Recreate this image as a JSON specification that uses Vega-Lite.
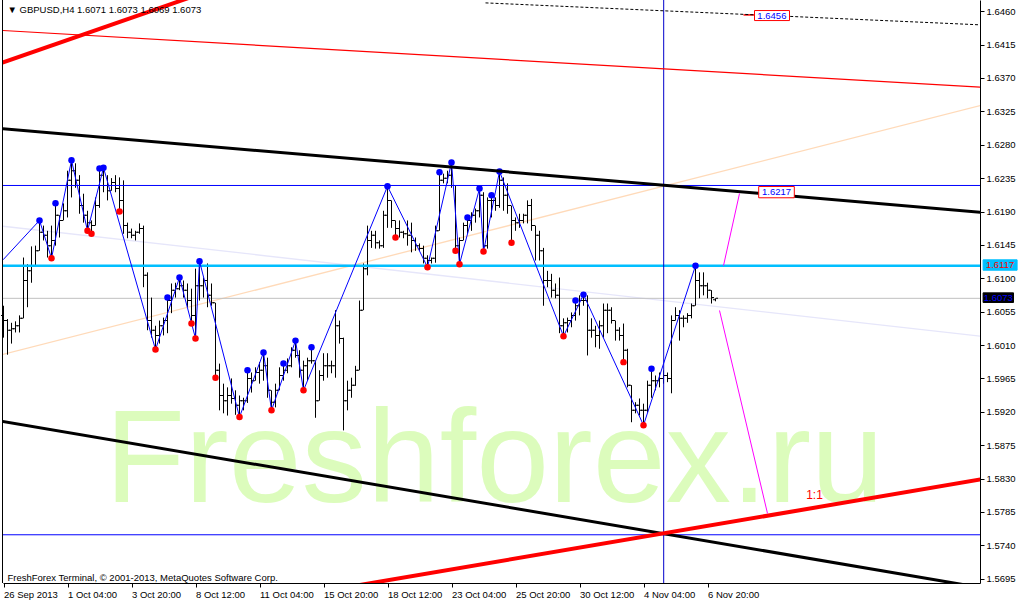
{
  "$schema": "https://vega.github.io/schema/vega-lite/v6.json",
  "width": 977,
  "height": 583,
  "autosize": {"type": "none"},
  "padding": {"left": 3, "top": 0, "right": 40, "bottom": 18},
  "background": "white",
  "config": {"view": {"stroke": null}, "font": "Liberation Sans", "axis": {"labelOverlap": false, "labelSeparation": 0}},
  "datasets": {
    "bars": [
      {"i":0,"o":1.6050,"h":1.6063,"l":1.6020,"c":1.6043},
      {"i":1,"o":1.6043,"h":1.6045,"l":1.5997,"c":1.6030},
      {"i":2,"o":1.6030,"h":1.6040,"l":1.6012,"c":1.6032},
      {"i":3,"o":1.6032,"h":1.6042,"l":1.6027,"c":1.6036},
      {"i":4,"o":1.6036,"h":1.6050,"l":1.6027,"c":1.6046},
      {"i":5,"o":1.6046,"h":1.6128,"l":1.6046,"c":1.6097},
      {"i":6,"o":1.6097,"h":1.6119,"l":1.6061,"c":1.6110},
      {"i":7,"o":1.6110,"h":1.6143,"l":1.6094,"c":1.6117},
      {"i":8,"o":1.6117,"h":1.6144,"l":1.6117,"c":1.6137},
      {"i":9,"o":1.6137,"h":1.6178,"l":1.6137,"c":1.6162},
      {"i":10,"o":1.6162,"h":1.6171,"l":1.6151,"c":1.6158},
      {"i":11,"o":1.6158,"h":1.6164,"l":1.6128,"c":1.6144},
      {"i":12,"o":1.6144,"h":1.6171,"l":1.6127,"c":1.6151},
      {"i":13,"o":1.6151,"h":1.6201,"l":1.6144,"c":1.6185},
      {"i":14,"o":1.6185,"h":1.6185,"l":1.6155,"c":1.6178},
      {"i":15,"o":1.6178,"h":1.6201,"l":1.6178,"c":1.6191},
      {"i":16,"o":1.6191,"h":1.6245,"l":1.6182,"c":1.6232},
      {"i":17,"o":1.6232,"h":1.6259,"l":1.6209,"c":1.6245},
      {"i":18,"o":1.6245,"h":1.6255,"l":1.6222,"c":1.6232},
      {"i":19,"o":1.6232,"h":1.6239,"l":1.6187,"c":1.6198},
      {"i":20,"o":1.6198,"h":1.6214,"l":1.6175,"c":1.6185},
      {"i":21,"o":1.6185,"h":1.6191,"l":1.6164,"c":1.6175},
      {"i":22,"o":1.6175,"h":1.6178,"l":1.6160,"c":1.6171},
      {"i":23,"o":1.6171,"h":1.6209,"l":1.6171,"c":1.6198},
      {"i":24,"o":1.6198,"h":1.6248,"l":1.6195,"c":1.6239},
      {"i":25,"o":1.6239,"h":1.6249,"l":1.6216,"c":1.6225},
      {"i":26,"o":1.6225,"h":1.6239,"l":1.6205,"c":1.6218},
      {"i":27,"o":1.6218,"h":1.6235,"l":1.6218,"c":1.6229},
      {"i":28,"o":1.6229,"h":1.6239,"l":1.6216,"c":1.6221},
      {"i":29,"o":1.6221,"h":1.6236,"l":1.6190,"c":1.6205},
      {"i":30,"o":1.6205,"h":1.6232,"l":1.6160,"c":1.6171},
      {"i":31,"o":1.6171,"h":1.6175,"l":1.6154,"c":1.6162},
      {"i":32,"o":1.6162,"h":1.6167,"l":1.6154,"c":1.6158},
      {"i":33,"o":1.6158,"h":1.6164,"l":1.6151,"c":1.6162},
      {"i":34,"o":1.6162,"h":1.6174,"l":1.6160,"c":1.6167},
      {"i":35,"o":1.6167,"h":1.6171,"l":1.6088,"c":1.6104},
      {"i":36,"o":1.6104,"h":1.6108,"l":1.6030,"c":1.6043},
      {"i":37,"o":1.6043,"h":1.6074,"l":1.6020,"c":1.6030},
      {"i":38,"o":1.6030,"h":1.6036,"l":1.6004,"c":1.6023},
      {"i":39,"o":1.6023,"h":1.6043,"l":1.6012,"c":1.6036},
      {"i":40,"o":1.6036,"h":1.6047,"l":1.6023,"c":1.6043},
      {"i":41,"o":1.6043,"h":1.6074,"l":1.6026,"c":1.6070},
      {"i":42,"o":1.6070,"h":1.6093,"l":1.6053,"c":1.6084},
      {"i":43,"o":1.6084,"h":1.6094,"l":1.6074,"c":1.6086},
      {"i":44,"o":1.6086,"h":1.6101,"l":1.6084,"c":1.6090},
      {"i":45,"o":1.6090,"h":1.6097,"l":1.6074,"c":1.6084},
      {"i":46,"o":1.6084,"h":1.6093,"l":1.6061,"c":1.6070},
      {"i":47,"o":1.6070,"h":1.6086,"l":1.6039,"c":1.6050},
      {"i":48,"o":1.6050,"h":1.6113,"l":1.6019,"c":1.6090},
      {"i":49,"o":1.6090,"h":1.6123,"l":1.6070,"c":1.6090},
      {"i":50,"o":1.6090,"h":1.6101,"l":1.6074,"c":1.6097},
      {"i":51,"o":1.6097,"h":1.6120,"l":1.6061,"c":1.6077},
      {"i":52,"o":1.6077,"h":1.6093,"l":1.6063,"c":1.6067},
      {"i":53,"o":1.6067,"h":1.6067,"l":1.5966,"c":1.5976},
      {"i":54,"o":1.5976,"h":1.5985,"l":1.5922,"c":1.5942},
      {"i":55,"o":1.5942,"h":1.5958,"l":1.5918,"c":1.5935},
      {"i":56,"o":1.5935,"h":1.5953,"l":1.5915,"c":1.5942},
      {"i":57,"o":1.5942,"h":1.5965,"l":1.5931,"c":1.5938},
      {"i":58,"o":1.5938,"h":1.5949,"l":1.5916,"c":1.5929},
      {"i":59,"o":1.5929,"h":1.5942,"l":1.5913,"c":1.5935},
      {"i":60,"o":1.5935,"h":1.5939,"l":1.5922,"c":1.5935},
      {"i":61,"o":1.5935,"h":1.5976,"l":1.5932,"c":1.5965},
      {"i":62,"o":1.5965,"h":1.5973,"l":1.5946,"c":1.5962},
      {"i":63,"o":1.5962,"h":1.5980,"l":1.5962,"c":1.5973},
      {"i":64,"o":1.5973,"h":1.5987,"l":1.5958,"c":1.5976},
      {"i":65,"o":1.5976,"h":1.6000,"l":1.5962,"c":1.5982},
      {"i":66,"o":1.5982,"h":1.5993,"l":1.5939,"c":1.5949},
      {"i":67,"o":1.5949,"h":1.5949,"l":1.5922,"c":1.5933},
      {"i":68,"o":1.5933,"h":1.5958,"l":1.5926,"c":1.5949},
      {"i":69,"o":1.5949,"h":1.5980,"l":1.5949,"c":1.5969},
      {"i":70,"o":1.5969,"h":1.5985,"l":1.5962,"c":1.5976},
      {"i":71,"o":1.5976,"h":1.5992,"l":1.5972,"c":1.5982},
      {"i":72,"o":1.5982,"h":1.6007,"l":1.5980,"c":1.6003},
      {"i":73,"o":1.6003,"h":1.6016,"l":1.5993,"c":1.5996},
      {"i":74,"o":1.5996,"h":1.6003,"l":1.5966,"c":1.5976},
      {"i":75,"o":1.5976,"h":1.5989,"l":1.5949,"c":1.5982},
      {"i":76,"o":1.5982,"h":1.5993,"l":1.5962,"c":1.5989},
      {"i":77,"o":1.5989,"h":1.6007,"l":1.5985,"c":1.5989},
      {"i":78,"o":1.5989,"h":1.5989,"l":1.5912,"c":1.5935},
      {"i":79,"o":1.5935,"h":1.5976,"l":1.5935,"c":1.5969},
      {"i":80,"o":1.5969,"h":1.5999,"l":1.5962,"c":1.5982},
      {"i":81,"o":1.5982,"h":1.5999,"l":1.5966,"c":1.5982},
      {"i":82,"o":1.5982,"h":1.5989,"l":1.5972,"c":1.5982},
      {"i":83,"o":1.5982,"h":1.6057,"l":1.5966,"c":1.6036},
      {"i":84,"o":1.6036,"h":1.6043,"l":1.6012,"c":1.6019},
      {"i":85,"o":1.6019,"h":1.6020,"l":1.5895,"c":1.5935},
      {"i":86,"o":1.5935,"h":1.5962,"l":1.5922,"c":1.5949},
      {"i":87,"o":1.5949,"h":1.5966,"l":1.5939,"c":1.5956},
      {"i":88,"o":1.5956,"h":1.5982,"l":1.5955,"c":1.5976},
      {"i":89,"o":1.5976,"h":1.6070,"l":1.5976,"c":1.6057},
      {"i":90,"o":1.6057,"h":1.6120,"l":1.6057,"c":1.6113},
      {"i":91,"o":1.6113,"h":1.6171,"l":1.6104,"c":1.6151},
      {"i":92,"o":1.6151,"h":1.6164,"l":1.6141,"c":1.6158},
      {"i":93,"o":1.6158,"h":1.6164,"l":1.6140,"c":1.6148},
      {"i":94,"o":1.6148,"h":1.6151,"l":1.6140,"c":1.6144},
      {"i":95,"o":1.6144,"h":1.6191,"l":1.6141,"c":1.6185},
      {"i":96,"o":1.6185,"h":1.6224,"l":1.6168,"c":1.6205},
      {"i":97,"o":1.6205,"h":1.6205,"l":1.6168,"c":1.6178},
      {"i":98,"o":1.6178,"h":1.6178,"l":1.6155,"c":1.6167},
      {"i":99,"o":1.6167,"h":1.6178,"l":1.6155,"c":1.6162},
      {"i":100,"o":1.6162,"h":1.6164,"l":1.6154,"c":1.6160},
      {"i":101,"o":1.6160,"h":1.6178,"l":1.6144,"c":1.6158},
      {"i":102,"o":1.6158,"h":1.6175,"l":1.6135,"c":1.6151},
      {"i":103,"o":1.6151,"h":1.6155,"l":1.6137,"c":1.6144},
      {"i":104,"o":1.6144,"h":1.6147,"l":1.6137,"c":1.6140},
      {"i":105,"o":1.6140,"h":1.6144,"l":1.6120,"c":1.6127},
      {"i":106,"o":1.6127,"h":1.6131,"l":1.6115,"c":1.6124},
      {"i":107,"o":1.6124,"h":1.6128,"l":1.6120,"c":1.6127},
      {"i":108,"o":1.6127,"h":1.6171,"l":1.6121,"c":1.6164},
      {"i":109,"o":1.6164,"h":1.6243,"l":1.6164,"c":1.6232},
      {"i":110,"o":1.6232,"h":1.6241,"l":1.6228,"c":1.6235},
      {"i":111,"o":1.6235,"h":1.6245,"l":1.6228,"c":1.6239},
      {"i":112,"o":1.6239,"h":1.6256,"l":1.6222,"c":1.6225},
      {"i":113,"o":1.6225,"h":1.6225,"l":1.6137,"c":1.6144},
      {"i":114,"o":1.6144,"h":1.6155,"l":1.6119,"c":1.6151},
      {"i":115,"o":1.6151,"h":1.6175,"l":1.6151,"c":1.6171},
      {"i":116,"o":1.6171,"h":1.6182,"l":1.6160,"c":1.6178},
      {"i":117,"o":1.6178,"h":1.6189,"l":1.6164,"c":1.6185},
      {"i":118,"o":1.6185,"h":1.6194,"l":1.6175,"c":1.6191},
      {"i":119,"o":1.6191,"h":1.6221,"l":1.6182,"c":1.6212},
      {"i":120,"o":1.6212,"h":1.6216,"l":1.6136,"c":1.6144},
      {"i":121,"o":1.6144,"h":1.6209,"l":1.6140,"c":1.6205},
      {"i":122,"o":1.6205,"h":1.6212,"l":1.6182,"c":1.6205},
      {"i":123,"o":1.6205,"h":1.6209,"l":1.6191,"c":1.6198},
      {"i":124,"o":1.6198,"h":1.6244,"l":1.6195,"c":1.6232},
      {"i":125,"o":1.6232,"h":1.6236,"l":1.6191,"c":1.6212},
      {"i":126,"o":1.6212,"h":1.6228,"l":1.6187,"c":1.6198},
      {"i":127,"o":1.6198,"h":1.6198,"l":1.6148,"c":1.6178},
      {"i":128,"o":1.6178,"h":1.6182,"l":1.6164,"c":1.6175},
      {"i":129,"o":1.6175,"h":1.6187,"l":1.6168,"c":1.6178},
      {"i":130,"o":1.6178,"h":1.6187,"l":1.6174,"c":1.6185},
      {"i":131,"o":1.6185,"h":1.6205,"l":1.6174,"c":1.6198},
      {"i":132,"o":1.6198,"h":1.6207,"l":1.6164,"c":1.6171},
      {"i":133,"o":1.6171,"h":1.6171,"l":1.6124,"c":1.6158},
      {"i":134,"o":1.6158,"h":1.6164,"l":1.6124,"c":1.6137},
      {"i":135,"o":1.6137,"h":1.6141,"l":1.6063,"c":1.6097},
      {"i":136,"o":1.6097,"h":1.6110,"l":1.6088,"c":1.6097},
      {"i":137,"o":1.6097,"h":1.6106,"l":1.6074,"c":1.6084},
      {"i":138,"o":1.6084,"h":1.6093,"l":1.6073,"c":1.6077},
      {"i":139,"o":1.6077,"h":1.6101,"l":1.6026,"c":1.6036},
      {"i":140,"o":1.6036,"h":1.6046,"l":1.6022,"c":1.6040},
      {"i":141,"o":1.6040,"h":1.6047,"l":1.6027,"c":1.6043},
      {"i":142,"o":1.6043,"h":1.6054,"l":1.6034,"c":1.6050},
      {"i":143,"o":1.6050,"h":1.6070,"l":1.6043,"c":1.6063},
      {"i":144,"o":1.6063,"h":1.6077,"l":1.6050,"c":1.6070},
      {"i":145,"o":1.6070,"h":1.6078,"l":1.6063,"c":1.6070},
      {"i":146,"o":1.6070,"h":1.6077,"l":1.5996,"c":1.6030},
      {"i":147,"o":1.6030,"h":1.6046,"l":1.6020,"c":1.6030},
      {"i":148,"o":1.6030,"h":1.6036,"l":1.6007,"c":1.6023},
      {"i":149,"o":1.6023,"h":1.6043,"l":1.6005,"c":1.6036},
      {"i":150,"o":1.6036,"h":1.6066,"l":1.6020,"c":1.6057},
      {"i":151,"o":1.6057,"h":1.6066,"l":1.6026,"c":1.6057},
      {"i":152,"o":1.6057,"h":1.6061,"l":1.6039,"c":1.6043},
      {"i":153,"o":1.6043,"h":1.6043,"l":1.6016,"c":1.6030},
      {"i":154,"o":1.6030,"h":1.6034,"l":1.6016,"c":1.6023},
      {"i":155,"o":1.6023,"h":1.6039,"l":1.5987,"c":1.6003},
      {"i":156,"o":1.6003,"h":1.6005,"l":1.5953,"c":1.5956},
      {"i":157,"o":1.5956,"h":1.5956,"l":1.5906,"c":1.5922},
      {"i":158,"o":1.5922,"h":1.5933,"l":1.5918,"c":1.5929},
      {"i":159,"o":1.5929,"h":1.5938,"l":1.5915,"c":1.5922},
      {"i":160,"o":1.5922,"h":1.5931,"l":1.5902,"c":1.5922},
      {"i":161,"o":1.5922,"h":1.5962,"l":1.5919,"c":1.5956},
      {"i":162,"o":1.5956,"h":1.5978,"l":1.5939,"c":1.5962},
      {"i":163,"o":1.5962,"h":1.5969,"l":1.5949,"c":1.5962},
      {"i":164,"o":1.5962,"h":1.5973,"l":1.5953,"c":1.5965},
      {"i":165,"o":1.5965,"h":1.5976,"l":1.5958,"c":1.5969},
      {"i":166,"o":1.5969,"h":1.5973,"l":1.5960,"c":1.5965},
      {"i":167,"o":1.5965,"h":1.6050,"l":1.5945,"c":1.6043},
      {"i":168,"o":1.6043,"h":1.6061,"l":1.6043,"c":1.6050},
      {"i":169,"o":1.6050,"h":1.6057,"l":1.6016,"c":1.6046},
      {"i":170,"o":1.6046,"h":1.6050,"l":1.6034,"c":1.6046},
      {"i":171,"o":1.6046,"h":1.6053,"l":1.6040,"c":1.6050},
      {"i":172,"o":1.6050,"h":1.6066,"l":1.6046,"c":1.6063},
      {"i":173,"o":1.6063,"h":1.6117,"l":1.6063,"c":1.6097},
      {"i":174,"o":1.6097,"h":1.6108,"l":1.6073,"c":1.6090},
      {"i":175,"o":1.6090,"h":1.6108,"l":1.6077,"c":1.6090},
      {"i":176,"o":1.6090,"h":1.6094,"l":1.6073,"c":1.6084},
      {"i":177,"o":1.6084,"h":1.6084,"l":1.6066,"c":1.6074},
      {"i":178,"o":1.6071,"h":1.6073,"l":1.6069,"c":1.6073}
    ],
    "zigzag": [
      {"i":-0.1,"p":1.6125},{"i":9,"p":1.6178},{"i":12,"p":1.6127},{"i":17,"p":1.6259},
      {"i":21,"p":1.6164},{"i":25,"p":1.6249},{"i":38,"p":1.6004},{"i":44,"p":1.6101},
      {"i":48,"p":1.6019},{"i":49,"p":1.6123},{"i":59,"p":1.5913},{"i":65,"p":1.6000},
      {"i":67,"p":1.5922},{"i":73,"p":1.6016},{"i":75,"p":1.5949},{"i":96,"p":1.6224},
      {"i":106,"p":1.6115},{"i":112,"p":1.6256},{"i":114,"p":1.6119},{"i":119,"p":1.6221},
      {"i":120,"p":1.6136},{"i":124,"p":1.6244},{"i":140,"p":1.6022},{"i":145,"p":1.6078},
      {"i":160,"p":1.5902},{"i":173,"p":1.6117}
    ],
    "dots": [
      {"i":9,"p":1.6178,"t":"up"},{"i":13,"p":1.6201,"t":"up"},{"i":17,"p":1.6259,"t":"up"},
      {"i":24,"p":1.6248,"t":"up"},{"i":25,"p":1.6249,"t":"up"},{"i":41,"p":1.6074,"t":"up"},
      {"i":44,"p":1.6101,"t":"up"},{"i":49,"p":1.6123,"t":"up"},{"i":61,"p":1.5976,"t":"up"},
      {"i":65,"p":1.6000,"t":"up"},{"i":70,"p":1.5985,"t":"up"},{"i":73,"p":1.6016,"t":"up"},
      {"i":77,"p":1.6007,"t":"up"},{"i":96,"p":1.6224,"t":"up"},{"i":109,"p":1.6243,"t":"up"},
      {"i":112,"p":1.6256,"t":"up"},{"i":116,"p":1.6182,"t":"up"},{"i":119,"p":1.6221,"t":"up"},
      {"i":122,"p":1.6212,"t":"up"},{"i":124,"p":1.6244,"t":"up"},{"i":143,"p":1.6070,"t":"up"},
      {"i":145,"p":1.6078,"t":"up"},{"i":162,"p":1.5978,"t":"up"},{"i":173,"p":1.6117,"t":"up"},
      {"i":12,"p":1.6127,"t":"down"},{"i":21,"p":1.6164,"t":"down"},{"i":22,"p":1.6160,"t":"down"},
      {"i":29,"p":1.6190,"t":"down"},{"i":38,"p":1.6004,"t":"down"},{"i":47,"p":1.6039,"t":"down"},
      {"i":48,"p":1.6019,"t":"down"},{"i":53,"p":1.5966,"t":"down"},{"i":59,"p":1.5913,"t":"down"},
      {"i":67,"p":1.5922,"t":"down"},{"i":75,"p":1.5949,"t":"down"},{"i":98,"p":1.6155,"t":"down"},
      {"i":106,"p":1.6115,"t":"down"},{"i":113,"p":1.6137,"t":"down"},{"i":114,"p":1.6119,"t":"down"},
      {"i":120,"p":1.6136,"t":"down"},{"i":127,"p":1.6148,"t":"down"},{"i":140,"p":1.6022,"t":"down"},
      {"i":155,"p":1.5987,"t":"down"},{"i":160,"p":1.5902,"t":"down"}
    ],
    "lines": [
      {"n":"redThin","i1":-0.25,"p1":1.64340,"i2":244.25,"p2":1.63575},
      {"n":"redThick","i1":-0.25,"p1":1.63908,"i2":49.25,"p2":1.64834},
      {"n":"redThick","i1":84.25,"p1":1.56822,"i2":244.25,"p2":1.58288},
      {"n":"blackThick","i1":-0.25,"p1":1.63015,"i2":244.25,"p2":1.61891},
      {"n":"blackThick","i1":-0.25,"p1":1.59072,"i2":244.25,"p2":1.56832},
      {"n":"blackDash","i1":120.5,"p1":1.64712,"i2":244.25,"p2":1.64416},
      {"n":"redShort","i1":185,"p1":1.6455,"i2":188,"p2":1.6455},
      {"n":"lavender","i1":-0.25,"p1":1.61702,"i2":244.25,"p2":1.60220},
      {"n":"peach","i1":-0.25,"p1":1.59973,"i2":244.25,"p2":1.63329},
      {"n":"magenta","i1":180,"p1":1.6117,"i2":184,"p2":1.62143},
      {"n":"magenta","i1":179,"p1":1.60566,"i2":191,"p2":1.57830}
    ],
    "levels": [
      {"n":"cyan","p":1.6117},
      {"n":"gray","p":1.6073},
      {"n":"blue","p":1.62251},
      {"n":"blue","p":1.57543}
    ],
    "boxes": [
      {"n":"red","i1":187.75,"i2":196.5,"p1":1.64609,"p2":1.64474,"t":"1.6456","ti":192.1,"tp":1.64540},
      {"n":"red","i1":188.8,"i2":197.7,"p1":1.62237,"p2":1.62085,"t":"1.6217","ti":193.25,"tp":1.62160},
      {"n":"cyan","i1":244.9,"i2":253.4,"p1":1.61249,"p2":1.61109,"t":"1.6117","ti":249.15,"tp":1.61180},
      {"n":"black","i1":244.9,"i2":252.5,"p1":1.60804,"p2":1.60674,"t":"1.6073","ti":248.7,"tp":1.60740}
    ],
    "notes": [
      {"n":"header","t":"▼ GBPUSD,H4  1.6071 1.6073 1.6069 1.6073","i":1,"p":1.64610},
      {"n":"footer","t":"FreshForex Terminal, © 2001-2013, MetaQuotes Software Corp.","i":1,"p":1.56954},
      {"n":"ratio","t":"1:1","i":202.75,"p":1.58019}
    ]
  },
  "layer": [
    {
      "data": {"values": [{"t": "Freshforex.ru", "i": 122.75, "p": 1.5798}]},
      "mark": {"type": "text", "fontSize": 131, "font": "Liberation Sans", "color": "#dcfcbc", "align": "center", "baseline": "alphabetic"},
      "encoding": {
        "x": {"field": "i", "type": "quantitative", "scale": {"domain": [-0.125, 244.125], "nice": false, "zero": false},
          "axis": {"title": null, "orient": "bottom", "values": [0,16,32,48,64,80,96,112,128,144,160,176], "tickCount": 40,
            "labelExpr": "['26 Sep 2013','1 Oct 04:00','3 Oct 20:00','8 Oct 12:00','11 Oct 04:00','15 Oct 20:00','18 Oct 12:00','23 Oct 04:00','25 Oct 20:00','30 Oct 12:00','4 Nov 04:00','6 Nov 20:00'][round(datum.value/16)]",
            "labelAlign": "left", "labelBaseline": "top", "labelPadding": 2, "tickSize": 4, "tickColor": "black", "domainColor": "black",
            "labelColor": "black", "labelFontSize": 9.5, "labelFont": "Liberation Sans", "grid": false, "labelFlush": false, "labelOverlap": false, "labelBound": false}},
        "y": {"field": "p", "type": "quantitative", "scale": {"domain": [1.56893, 1.64751], "nice": false, "zero": false},
          "axis": {"title": null, "orient": "right", "values": [1.6460,1.6415,1.6370,1.6325,1.6280,1.6235,1.6190,1.6145,1.6100,1.6055,1.6010,1.5965,1.5920,1.5875,1.5830,1.5785,1.5740,1.5695], "tickCount": 40,
            "format": ".4f", "labelAlign": "left", "labelBaseline": "middle", "labelPadding": 2, "tickSize": 4, "tickColor": "black", "domainColor": "black",
            "labelColor": "black", "labelFontSize": 9.5, "labelFont": "Liberation Sans", "grid": false, "labelFlush": false, "labelOverlap": false, "labelSeparation": 0, "labelBound": false}},
        "text": {"field": "t"}
      }
    },
    {
      "data": {"name": "lines"},
      "transform": [{"filter": "datum.n == 'peach'"}],
      "mark": {"type": "rule", "color": "#ffdab9", "strokeWidth": 1.3, "clip": true},
      "encoding": {
        "x": {"field": "i1", "type": "quantitative", "title": null, "scale": {"domain": [-0.125, 244.125], "nice": false, "zero": false}},
        "y": {"field": "p1", "type": "quantitative", "title": null, "scale": {"domain": [1.56893, 1.64751], "nice": false, "zero": false}},
        "x2": {"field": "i2"}, "y2": {"field": "p2"}
      }
    },
    {
      "data": {"name": "lines"},
      "transform": [{"filter": "datum.n == 'lavender'"}],
      "mark": {"type": "rule", "color": "#e6e6fa", "strokeWidth": 1.3, "clip": true},
      "encoding": {
        "x": {"field": "i1", "type": "quantitative", "title": null, "scale": {"domain": [-0.125, 244.125], "nice": false, "zero": false}},
        "y": {"field": "p1", "type": "quantitative", "title": null, "scale": {"domain": [1.56893, 1.64751], "nice": false, "zero": false}},
        "x2": {"field": "i2"}, "y2": {"field": "p2"}
      }
    },
    {
      "data": {"name": "levels"},
      "transform": [{"filter": "datum.n == 'gray'"}],
      "mark": {"type": "rule", "color": "#c0c0c0", "strokeWidth": 1},
      "encoding": {
        "y": {"field": "p", "type": "quantitative", "title": null, "scale": {"domain": [1.56893, 1.64751], "nice": false, "zero": false}}
      }
    },
    {
      "data": {"name": "bars"},
      "mark": {"type": "rule", "color": "black", "strokeWidth": 1},
      "encoding": {
        "x": {"field": "i", "type": "quantitative", "title": null, "scale": {"domain": [-0.125, 244.125], "nice": false, "zero": false}},
        "y": {"field": "h", "type": "quantitative", "title": null, "scale": {"domain": [1.56893, 1.64751], "nice": false, "zero": false}},
        "y2": {"field": "l"}
      }
    },
    {
      "data": {"name": "bars"},
      "mark": {"type": "tick", "orient": "horizontal", "size": 2, "thickness": 1, "xOffset": -1.5, "color": "black", "opacity": 1},
      "encoding": {
        "x": {"field": "i", "type": "quantitative", "title": null, "scale": {"domain": [-0.125, 244.125], "nice": false, "zero": false}},
        "y": {"field": "o", "type": "quantitative", "title": null, "scale": {"domain": [1.56893, 1.64751], "nice": false, "zero": false}}
      }
    },
    {
      "data": {"name": "bars"},
      "mark": {"type": "tick", "orient": "horizontal", "size": 2, "thickness": 1, "xOffset": 1.5, "color": "black", "opacity": 1},
      "encoding": {
        "x": {"field": "i", "type": "quantitative", "title": null, "scale": {"domain": [-0.125, 244.125], "nice": false, "zero": false}},
        "y": {"field": "c", "type": "quantitative", "title": null, "scale": {"domain": [1.56893, 1.64751], "nice": false, "zero": false}}
      }
    },
    {
      "data": {"name": "levels"},
      "transform": [{"filter": "datum.n == 'cyan'"}],
      "mark": {"type": "rule", "color": "#00bfff", "strokeWidth": 2.5},
      "encoding": {
        "y": {"field": "p", "type": "quantitative", "title": null, "scale": {"domain": [1.56893, 1.64751], "nice": false, "zero": false}}
      }
    },
    {
      "data": {"name": "levels"},
      "transform": [{"filter": "datum.n == 'blue'"}],
      "mark": {"type": "rule", "color": "#0000ff", "strokeWidth": 1},
      "encoding": {
        "y": {"field": "p", "type": "quantitative", "title": null, "scale": {"domain": [1.56893, 1.64751], "nice": false, "zero": false}}
      }
    },
    {
      "data": {"values": [{"i": 165.05}]},
      "mark": {"type": "rule", "color": "#0000cc", "strokeWidth": 1},
      "encoding": {
        "x": {"field": "i", "type": "quantitative", "title": null, "scale": {"domain": [-0.125, 244.125], "nice": false, "zero": false}}
      }
    },
    {
      "data": {"name": "zigzag"},
      "mark": {"type": "line", "color": "#0000ff", "strokeWidth": 1, "clip": true},
      "encoding": {
        "x": {"field": "i", "type": "quantitative", "title": null, "scale": {"domain": [-0.125, 244.125], "nice": false, "zero": false}},
        "y": {"field": "p", "type": "quantitative", "title": null, "scale": {"domain": [1.56893, 1.64751], "nice": false, "zero": false}}
      }
    },
    {
      "data": {"name": "dots"},
      "mark": {"type": "circle", "size": 42, "opacity": 1},
      "encoding": {
        "x": {"field": "i", "type": "quantitative", "title": null, "scale": {"domain": [-0.125, 244.125], "nice": false, "zero": false}},
        "y": {"field": "p", "type": "quantitative", "title": null, "scale": {"domain": [1.56893, 1.64751], "nice": false, "zero": false}},
        "color": {"field": "t", "type": "nominal", "scale": {"domain": ["up", "down"], "range": ["#0000ff", "#ff0000"]}, "legend": null}
      }
    },
    {
      "data": {"name": "lines"},
      "transform": [{"filter": "datum.n == 'redThin'"}],
      "mark": {"type": "rule", "color": "#ff0000", "strokeWidth": 1.2, "clip": true},
      "encoding": {
        "x": {"field": "i1", "type": "quantitative", "title": null, "scale": {"domain": [-0.125, 244.125], "nice": false, "zero": false}},
        "y": {"field": "p1", "type": "quantitative", "title": null, "scale": {"domain": [1.56893, 1.64751], "nice": false, "zero": false}},
        "x2": {"field": "i2"}, "y2": {"field": "p2"}
      }
    },
    {
      "data": {"name": "lines"},
      "transform": [{"filter": "datum.n == 'redShort'"}],
      "mark": {"type": "rule", "color": "#ff0000", "strokeWidth": 1.5, "clip": true},
      "encoding": {
        "x": {"field": "i1", "type": "quantitative", "title": null, "scale": {"domain": [-0.125, 244.125], "nice": false, "zero": false}},
        "y": {"field": "p1", "type": "quantitative", "title": null, "scale": {"domain": [1.56893, 1.64751], "nice": false, "zero": false}},
        "x2": {"field": "i2"}, "y2": {"field": "p2"}
      }
    },
    {
      "data": {"name": "lines"},
      "transform": [{"filter": "datum.n == 'blackThick'"}],
      "mark": {"type": "rule", "color": "#000000", "strokeWidth": 3, "clip": true},
      "encoding": {
        "x": {"field": "i1", "type": "quantitative", "title": null, "scale": {"domain": [-0.125, 244.125], "nice": false, "zero": false}},
        "y": {"field": "p1", "type": "quantitative", "title": null, "scale": {"domain": [1.56893, 1.64751], "nice": false, "zero": false}},
        "x2": {"field": "i2"}, "y2": {"field": "p2"}
      }
    },
    {
      "data": {"name": "lines"},
      "transform": [{"filter": "datum.n == 'redThick'"}],
      "mark": {"type": "rule", "color": "#ff0000", "strokeWidth": 4, "clip": true},
      "encoding": {
        "x": {"field": "i1", "type": "quantitative", "title": null, "scale": {"domain": [-0.125, 244.125], "nice": false, "zero": false}},
        "y": {"field": "p1", "type": "quantitative", "title": null, "scale": {"domain": [1.56893, 1.64751], "nice": false, "zero": false}},
        "x2": {"field": "i2"}, "y2": {"field": "p2"}
      }
    },
    {
      "data": {"name": "lines"},
      "transform": [{"filter": "datum.n == 'blackDash'"}],
      "mark": {"type": "rule", "color": "#000000", "strokeWidth": 1, "strokeDash": [3, 2], "clip": true},
      "encoding": {
        "x": {"field": "i1", "type": "quantitative", "title": null, "scale": {"domain": [-0.125, 244.125], "nice": false, "zero": false}},
        "y": {"field": "p1", "type": "quantitative", "title": null, "scale": {"domain": [1.56893, 1.64751], "nice": false, "zero": false}},
        "x2": {"field": "i2"}, "y2": {"field": "p2"}
      }
    },
    {
      "data": {"name": "lines"},
      "transform": [{"filter": "datum.n == 'magenta'"}],
      "mark": {"type": "rule", "color": "#ff00ff", "strokeWidth": 1, "clip": true},
      "encoding": {
        "x": {"field": "i1", "type": "quantitative", "title": null, "scale": {"domain": [-0.125, 244.125], "nice": false, "zero": false}},
        "y": {"field": "p1", "type": "quantitative", "title": null, "scale": {"domain": [1.56893, 1.64751], "nice": false, "zero": false}},
        "x2": {"field": "i2"}, "y2": {"field": "p2"}
      }
    },
    {
      "data": {"name": "boxes"},
      "mark": {"type": "rect", "strokeWidth": 1},
      "encoding": {
        "x": {"field": "i1", "type": "quantitative", "title": null, "scale": {"domain": [-0.125, 244.125], "nice": false, "zero": false}},
        "y": {"field": "p1", "type": "quantitative", "title": null, "scale": {"domain": [1.56893, 1.64751], "nice": false, "zero": false}},
        "x2": {"field": "i2"}, "y2": {"field": "p2"},
        "fill": {"field": "n", "type": "nominal", "scale": {"domain": ["red", "cyan", "black"], "range": ["#ffffff", "#00bfff", "#000000"]}, "legend": null},
        "stroke": {"field": "n", "type": "nominal", "scale": {"domain": ["red", "cyan", "black"], "range": ["#ff0000", "#00bfff", "#000000"]}, "legend": null}
      }
    },
    {
      "data": {"name": "boxes"},
      "mark": {"type": "text", "fontSize": 9.5, "font": "Liberation Sans", "align": "center", "baseline": "middle"},
      "encoding": {
        "x": {"field": "ti", "type": "quantitative", "title": null, "scale": {"domain": [-0.125, 244.125], "nice": false, "zero": false}},
        "y": {"field": "tp", "type": "quantitative", "title": null, "scale": {"domain": [1.56893, 1.64751], "nice": false, "zero": false}},
        "text": {"field": "t"},
        "color": {"field": "n", "type": "nominal", "scale": {"domain": ["red", "cyan", "black"], "range": ["#ff0000", "#ffffff", "#ffffff"]}, "legend": null}
      }
    },
    {
      "data": {"name": "notes"},
      "transform": [{"filter": "datum.n != 'ratio'"}],
      "mark": {"type": "text", "fontSize": 9.5, "font": "Liberation Sans", "align": "left", "baseline": "middle", "color": "black"},
      "encoding": {
        "x": {"field": "i", "type": "quantitative", "title": null, "scale": {"domain": [-0.125, 244.125], "nice": false, "zero": false}},
        "y": {"field": "p", "type": "quantitative", "title": null, "scale": {"domain": [1.56893, 1.64751], "nice": false, "zero": false}},
        "text": {"field": "t"}
      }
    },
    {
      "data": {"name": "notes"},
      "transform": [{"filter": "datum.n == 'ratio'"}],
      "mark": {"type": "text", "fontSize": 12, "font": "Liberation Sans", "align": "center", "baseline": "alphabetic", "color": "#ff0000"},
      "encoding": {
        "x": {"field": "i", "type": "quantitative", "title": null, "scale": {"domain": [-0.125, 244.125], "nice": false, "zero": false}},
        "y": {"field": "p", "type": "quantitative", "title": null, "scale": {"domain": [1.56893, 1.64751], "nice": false, "zero": false}},
        "text": {"field": "t"}
      }
    },
    {
      "data": {"values": [{"i": -0.25}]},
      "mark": {"type": "rule", "color": "black", "strokeWidth": 1},
      "encoding": {
        "x": {"field": "i", "type": "quantitative", "title": null, "scale": {"domain": [-0.125, 244.125], "nice": false, "zero": false}}
      }
    }
  ]
}
